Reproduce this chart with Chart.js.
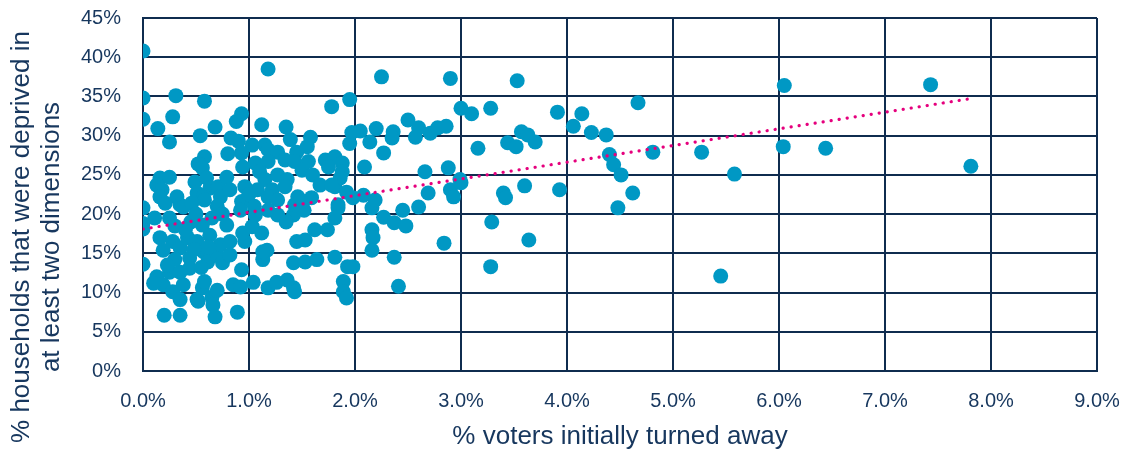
<!DOCTYPE html>
<html>
<head>
<meta charset="utf-8">
<script src="https://cdn.jsdelivr.net/npm/chart.js@4"></script>
<style>
  html, body { margin: 0; padding: 0; background: #fff; }
  #wrap { width: 1135px; height: 455px; }
</style>
</head>
<body>
<div id="wrap"><canvas id="myChart" width="1135" height="455"></canvas></div>
<script>
// % voters initially turned away (x) and % households deprived in 2+ dimensions (y)
const votersTurnedAway = [
  0, 0, 0, 0, 0, 0, 0,
  0.31, 0.58, 0.28, 0.14, 0.25, 0.54, 0.68, 1.18, 0.93, 0.88, 1.12, 1.35, 0.83, 0.9,
  1.39, 1.58, 0.8, 0.58, 0.52, 0.94, 0.56, 0.16, 0.25, 0.13, 0.18, 0.16, 0.32, 0.21,
  0.35, 0.49, 0.6, 0.63, 0.51, 0.57, 0.71, 0.73, 0.79, 0.82, 0.58, 0.38, 0.46,
  1.78, 1.95, 1.03, 1.15, 1.18, 1.55, 1.45, 0.93, 1.27, 1.06, 1.18, 1.34, 1.43, 1.56,
  1.72, 1.81, 1.1, 1.15, 1.27, 1.36, 1.5, 1.6, 1.75, 1.88, 0.96, 1.08, 1.22, 1.34,
  1.67, 1.81, 1.88, 1.18, 1.27, 1.46, 1.51, 1.59, 1.84, 0.93, 1.86, 1.78, 1.92,
  0.11, 0.16, 0.19, 0.25, 0.28, 0.35, 0.42, 0.51, 0.57, 0.44, 0.61, 0.7, 0.75, 0.73,
  0.63, 0.56, 0.65, 0.79, 0.82, 0.13, 0.19, 0.25, 0.28, 0.35, 0.38, 0.51, 0.56, 0.58,
  0.65, 0.66, 0.7, 0.2, 0.35, 0.68, 0.89, 0.44, 0.35, 0.85, 0.82, 0.1,
  0.52, 0.92, 1.04, 1.18, 1.26, 1.36, 1.42,
  1.12, 1.17, 1.13, 0.96, 1.42, 1.53, 1.64, 1.45, 1.53, 1.62, 1.74,
  1.84, 1.81, 1.13, 1.81, 1.43, 0.93, 0.94, 1.03, 1.27, 1.42, 1.18, 0.92, 1.06, 1.43, 1.52,
  2.25, 2.9, 3.53, 3.0, 3.1, 3.28, 2.5, 2.6, 2.57, 2.71, 2.78, 2.86, 2.05, 1.97, 1.95,
  2.2, 2.14, 2.36, 2.35, 2.27, 2.09, 3.16, 3.44, 3.52, 3.57, 3.63, 3.7, 2.66, 2.88, 2.99,
  3.4, 3.42, 3.6, 3.29, 3.64, 2.84, 3.28, 2.41, 2.37, 2.16, 2.17, 2.16, 2.27, 2.37, 2.48,
  2.45, 2.6, 2.69, 2.9, 2.93, 3.0, 2.16, 2.19, 1.98, 2.08, 1.93, 1.98, 1.89, 1.89, 1.92,
  6.05, 3.91, 4.14, 4.67, 4.06, 4.23, 4.37, 4.4, 4.44, 4.51, 4.81, 5.27, 5.58, 6.04,
  3.93, 4.62, 4.48, 5.45, 7.43, 6.44, 7.81,
  0.45, 0.4, 0.5, 0.7, 0.75, 0.48, 0.62, 0.3, 0.23, 0.55, 0.3, 1.0, 1.05, 1.35
];
const householdsDeprived = [
  40.8, 34.8, 32.1, 20.8, 18.8, 18.1, 13.6,
  35.1, 34.4, 32.4, 30.9, 29.2, 30.0, 31.1, 38.5, 32.8, 31.8, 31.4, 31.1, 29.7, 29.3,
  29.5, 29.8, 27.7, 27.3, 26.4, 26.0, 25.9, 24.6, 24.7, 23.7, 23.1, 22.2, 22.2, 21.4,
  21.2, 24.1, 24.6, 23.3, 22.7, 22.2, 23.5, 22.2, 24.7, 23.1, 21.8, 20.9, 21.4,
  33.7, 34.6, 28.8, 28.8, 28.2, 28.6, 27.9, 27.8, 27.9, 26.5, 26.7, 26.9, 26.7, 26.7,
  26.9, 27.3, 25.4, 24.4, 25.0, 24.4, 25.6, 25.0, 26.0, 26.5, 23.5, 23.1, 23.1, 23.5,
  23.7, 23.5, 25.4, 22.2, 21.8, 22.2, 21.6, 22.1, 21.2, 21.6, 24.6, 23.7, 22.8,
  19.5, 17.0, 15.4, 19.5, 16.5, 15.7, 17.0, 16.5, 15.2, 14.4, 13.9, 14.8, 13.8, 16.1,
  17.3, 18.6, 19.5, 18.6, 16.5, 12.0, 11.0, 12.6, 10.1, 9.1, 11.0, 9.1, 10.6, 11.4,
  9.4, 8.4, 10.3, 7.1, 7.1, 6.9, 7.5, 13.1, 12.6, 11.0, 14.8, 11.2,
  8.9, 10.7, 11.3, 10.6, 11.3, 11.6, 10.6,
  17.6, 15.4, 14.2, 16.5, 13.8, 13.9, 14.2, 16.5, 16.7, 18.0, 18.0,
  20.8, 19.5, 15.2, 14.5, 10.1, 12.9, 17.6, 18.4, 19.9, 19.9, 20.5, 20.5, 19.9, 21.2, 20.5,
  37.5, 37.3, 37.0, 33.5, 32.8, 33.5, 32.0, 31.0, 29.8, 30.3, 31.0, 31.2, 30.6, 30.4, 29.0,
  30.9, 29.2, 30.5, 29.7, 27.8, 26.0, 28.4, 29.1, 28.6, 30.5, 30.1, 29.2, 25.4, 25.9, 24.4,
  22.7, 22.1, 23.6, 19.0, 16.7, 16.3, 13.3, 10.8, 14.5, 18.0, 17.0, 15.4, 19.6, 18.9, 18.5,
  20.5, 20.9, 22.7, 23.1, 22.2, 24.0, 20.8, 21.8, 22.1, 22.4, 13.3, 13.3, 11.4, 10.1, 9.3,
  36.4, 33.0, 32.8, 34.2, 31.2, 30.4, 30.1, 27.6, 26.3, 25.0, 27.9, 27.9, 25.1, 28.6,
  23.1, 22.7, 20.8, 12.1, 36.5, 28.4, 26.1,
  19.0, 18.0, 20.0, 21.0, 20.0, 15.5, 15.8, 14.2, 13.5, 13.2, 18.5, 22.5, 21.0, 19.0
];

// dotted trendline end points
const trendX = [0, 7.8];
const trendY = [18.1, 34.7];

const xTicks = [0, 1, 2, 3, 4, 5, 6, 7, 8, 9];
const yTicks = [0, 5, 10, 15, 20, 25, 30, 35, 40, 45];

const yTitle = ['% households that were deprived in', 'at least two dimensions'];
const xTitle = '% voters initially turned away';

const navy = '#0f2c4f';
const textCol = '#17375e';

let scatterPts = votersTurnedAway.map((v, i) => ({ x: v, y: householdsDeprived[i] }));
let trendPts = trendX.map((v, i) => ({ x: v, y: trendY[i] }));

// y axis title drawn by hand so it sits where the original has it
const yTitlePlugin = {
  id: 'yTitlePlugin',
  afterDraw(chart) {
    const ctx = chart.ctx;
    ctx.save();
    ctx.fillStyle = textCol;
    ctx.font = '26px "Liberation Sans", Arial, sans-serif';
    ctx.textAlign = 'center';
    ctx.textBaseline = 'middle';
    ctx.translate(0, 237);
    ctx.rotate(-Math.PI / 2);
    ctx.fillText(yTitle[0], 0, 22);
    ctx.fillText(yTitle[1], 0, 52);
    ctx.restore();
  }
};

const config = {
  type: 'scatter',
  data: {
    datasets: [
      {
        type: 'line',
        label: 'Trend',
        data: trendPts,
        borderColor: '#e5007d',
        borderWidth: 3.2,
        borderDash: [0.1, 8],
        borderCapStyle: 'round',
        pointRadius: 0,
        fill: false,
        order: 0
      },
      {
        label: 'Areas',
        data: scatterPts,
        backgroundColor: '#0098c4',
        borderColor: '#0098c4',
        borderWidth: 0,
        pointRadius: 7.5,
        pointHoverRadius: 7.5,
        order: 1
      }
    ]
  },
  options: {
    responsive: false,
    animation: false,
    events: [],
    layout: { padding: { top: 18, right: 38, left: 0, bottom: 0 } },
    plugins: {
      legend: { display: false },
      tooltip: { enabled: false }
    },
    scales: {
      x: {
        type: 'linear',
        min: 0,
        max: 9,
        afterBuildTicks: s => { s.ticks = xTicks.map(v => ({ value: v })); },
        afterFit: s => { s.height = 84; s.paddingLeft = 0; s.paddingRight = 0; },
        grid: { color: navy, lineWidth: 2, drawTicks: false },
        border: { color: navy, width: 2 },
        ticks: {
          padding: 18,
          color: textCol,
          font: { family: '"Liberation Sans", Arial, sans-serif', size: 20 },
          callback: v => v.toFixed(1) + '%'
        },
        title: {
          display: true,
          text: xTitle,
          color: textCol,
          font: { family: '"Liberation Sans", Arial, sans-serif', size: 26 },
          padding: { top: 0, bottom: 3 }
        }
      },
      y: {
        type: 'linear',
        min: 0,
        max: 45,
        afterBuildTicks: s => { s.ticks = yTicks.map(v => ({ value: v })); },
        afterFit: s => { s.width = 143; s.paddingTop = 0; s.paddingBottom = 0; },
        grid: { color: navy, lineWidth: 2, drawTicks: false },
        border: { color: navy, width: 2 },
        ticks: {
          padding: 22,
          color: textCol,
          font: { family: '"Liberation Sans", Arial, sans-serif', size: 20 },
          callback: v => v + '%'
        }
      }
    }
  },
  plugins: [yTitlePlugin]
};

const myChart = new Chart(document.getElementById('myChart'), config);
</script>
</body>
</html>
